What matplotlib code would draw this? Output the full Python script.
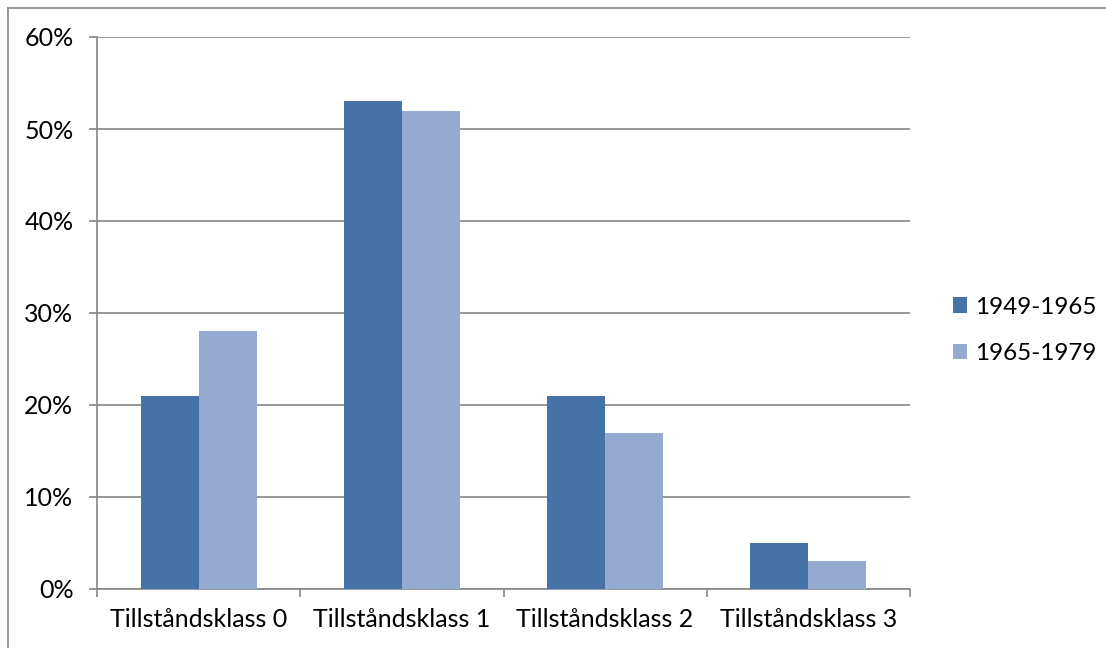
import numpy as np
import matplotlib.pyplot as plt
from matplotlib.lines import Line2D

categories = ["Tillståndsklass 0", "Tillståndsklass 1", "Tillståndsklass 2", "Tillståndsklass 3"]
series_names = ["1949-1965", "1965-1979"]
values_1949 = [21, 53, 21, 5]
values_1965 = [28, 52, 17, 3]
yticks = [0, 10, 20, 30, 40, 50, 60]

plt.rcParams['font.family'] = ['Lato', 'DejaVu Sans']

dark = "#4573A7"
light = "#95AAD1"
gray = "#868686"

fig = plt.figure(figsize=(11.06, 6.48), dpi=100)
ax = fig.add_axes([97 / 1106, 1 - 589 / 648, (910 - 97) / 1106, (589 - 37) / 648])

x = np.arange(len(categories))
w = 0.285
ax.bar(x - w / 2, values_1949, width=w, color=dark, label=series_names[0], zorder=3)
ax.bar(x + w / 2, values_1965, width=w, color=light, label=series_names[1], zorder=3)

ax.set_xlim(-0.5, len(categories) - 0.5)
ax.set_ylim(0, 60)
ax.set_yticks(yticks)
ax.set_yticklabels([f"{t}%" for t in yticks], fontsize=18)
ax.yaxis.grid(True, color=gray, linewidth=1.2, zorder=0)
ax.tick_params(axis='y', length=6, width=1.2, color=gray, pad=11)

ax.set_xticks(x)
ax.set_xticklabels(categories, fontsize=18)
ax.set_xticks(np.arange(-0.5, len(categories)), minor=True)
ax.tick_params(axis='x', which='major', length=0, pad=14)
ax.tick_params(axis='x', which='minor', length=6, width=1.2, color=gray)

for s in ['top', 'right']:
    ax.spines[s].set_visible(False)
for s in ['left', 'bottom']:
    ax.spines[s].set_color(gray)
    ax.spines[s].set_linewidth(1.2)

leg = fig.legend(loc='upper left', bbox_to_anchor=(943 / 1106, 1 - 287 / 648),
                 frameon=False, fontsize=17.5, handlelength=0.6, handleheight=0.6,
                 handletextpad=0.3, labelspacing=1.05, borderaxespad=0)

# outer chart border
fig.add_artist(Line2D([8 / 1106, 8 / 1106], [0, 1 - 8 / 648], color=gray, linewidth=1.2))
fig.add_artist(Line2D([8 / 1106, 1], [1 - 8 / 648, 1 - 8 / 648], color=gray, linewidth=1.2))

fig.savefig("out.png", dpi=100)
